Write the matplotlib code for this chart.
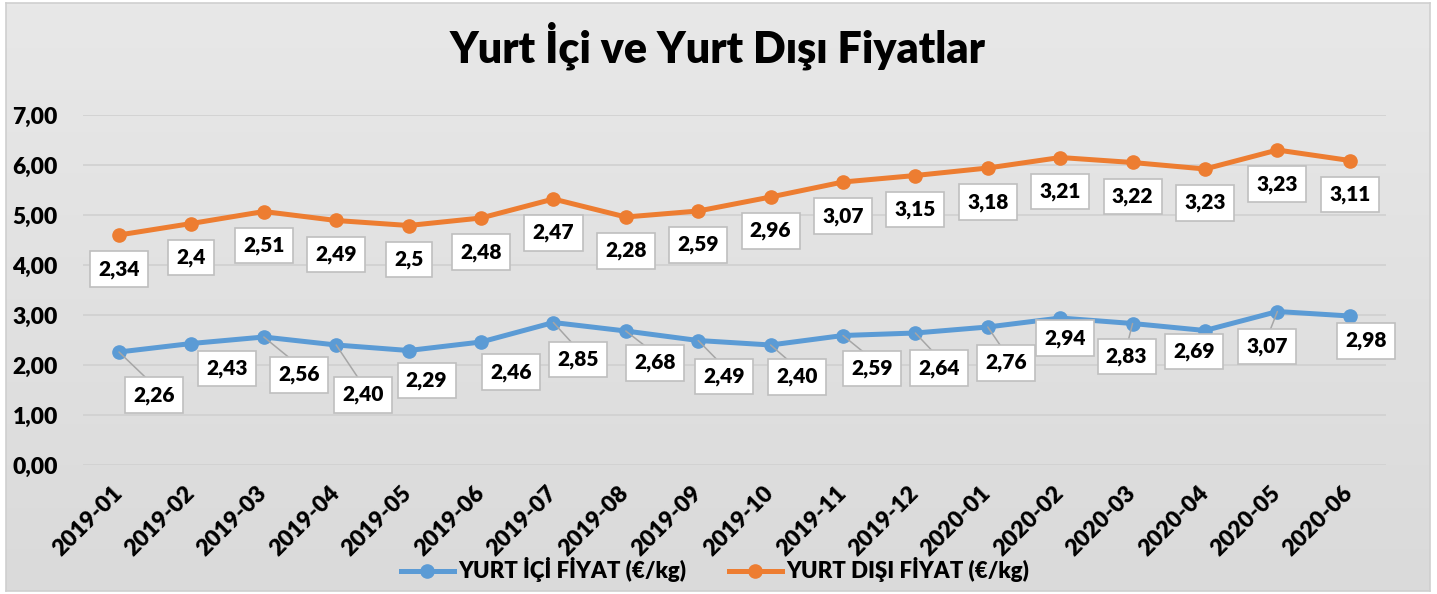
import numpy as np
import matplotlib
matplotlib.use("Agg")
import matplotlib.pyplot as plt
from matplotlib.lines import Line2D

plt.rcParams["font.family"] = ["Lato", "DejaVu Sans"]
plt.rcParams["font.weight"] = "heavy"

months = ["2019-01", "2019-02", "2019-03", "2019-04", "2019-05", "2019-06",
          "2019-07", "2019-08", "2019-09", "2019-10", "2019-11", "2019-12",
          "2020-01", "2020-02", "2020-03", "2020-04", "2020-05", "2020-06"]
yurt_ici = [2.26, 2.43, 2.56, 2.40, 2.29, 2.46, 2.85, 2.68, 2.49, 2.40,
            2.59, 2.64, 2.76, 2.94, 2.83, 2.69, 3.07, 2.98]
yurt_disi = [2.34, 2.4, 2.51, 2.49, 2.5, 2.48, 2.47, 2.28, 2.59, 2.96,
             3.07, 3.15, 3.18, 3.21, 3.22, 3.23, 3.23, 3.11]
yurt_disi_text = ["2,34", "2,4", "2,51", "2,49", "2,5", "2,48", "2,47", "2,28",
                  "2,59", "2,96", "3,07", "3,15", "3,18", "3,21", "3,22",
                  "3,23", "3,23", "3,11"]
y_ticks = [0, 1, 2, 3, 4, 5, 6, 7]

# label layout (pixel offsets from the marker, y positive = down)
blue_offsets = [(35, 43), (36, 25), (35, 38), (27, 50), (18, 30), (30, 30),
                (25, 37), (29, 32), (26, 36), (26, 32), (29, 33), (24, 35),
                (18, 36), (5, 20), (-6, 33), (-11, 21), (-10, 35), (16, 25)]
blue_leader = [1, 0, 1, 1, 0, 0, 1, 1, 1, 1, 1, 1, 1, 0, 1, 0, 1, 0]

BLUE = "#5B9BD5"
ORANGE = "#ED7D31"
W, H = 1437, 594

fig = plt.figure(figsize=(W / 100, H / 100), dpi=100, facecolor="white")

# chart area background with a soft vertical gradient
bg = fig.add_axes([6 / W, 1 - 591 / H, (1430 - 6) / W, (591 - 3) / H], zorder=0)
grad = np.linspace(0, 1, 256)[:, None]
top, bottom = np.array([0.91, 0.91, 0.91]), np.array([0.855, 0.855, 0.855])
bg.imshow(top + (bottom - top) * grad[..., None], aspect="auto", extent=[0, 1, 0, 1])
bg.set_xticks([])
bg.set_yticks([])
for s in bg.spines.values():
    s.set_color("#CFCFCF")
    s.set_linewidth(1.2)

ax = fig.add_axes([82.8 / W, 1 - 465 / H, (1386 - 82.8) / W, (465 - 115) / H], zorder=1)
ax.patch.set_alpha(0)

x = np.arange(len(months))
stacked = np.array(yurt_ici) + np.array(yurt_disi)

ax.plot(x, yurt_ici, color=BLUE, lw=3.6, marker="o", ms=9.5, zorder=3,
        solid_capstyle="round")
ax.plot(x, stacked, color=ORANGE, lw=3.6, marker="o", ms=9.5, zorder=3,
        solid_capstyle="round")

box = dict(boxstyle="square,pad=0.4", fc="white", ec="#BFBFBF", lw=1.2)
for i, v in enumerate(yurt_ici):
    dx, dy = blue_offsets[i]
    arrow = None
    if blue_leader[i]:
        arrow = dict(arrowstyle="-", color="#A6A6A6", lw=1.1, relpos=(0.5, 1.0),
                     shrinkA=0, shrinkB=0, patchA=None)
    ax.annotate(f"{v:.2f}".replace(".", ","), (x[i], v), xytext=(dx, -dy),
                textcoords="offset pixels", ha="center", va="center",
                fontsize=15, bbox=box, arrowprops=arrow, zorder=5)
for i, v in enumerate(stacked):
    ax.annotate(yurt_disi_text[i], (x[i], v), xytext=(0, -34),
                textcoords="offset pixels", ha="center", va="center",
                fontsize=15, bbox=box, zorder=5)

ax.set_xlim(-0.5, len(months) - 0.5)
ax.set_ylim(0, 7)
ax.set_yticks(y_ticks, [f"{t:.2f}".replace(".", ",") for t in y_ticks], fontsize=16.5)
ax.set_xticks(x, months, fontsize=16.5, rotation=45, ha="right",
              rotation_mode="anchor", va="center")
ax.tick_params(axis="y", length=0, pad=18)
ax.tick_params(axis="x", length=0, pad=18)
ax.grid(axis="y", color="#D0D0D0", lw=1.2)
ax.set_axisbelow(True)
for s in ax.spines.values():
    s.set_visible(False)

fig.text(718 / W, 1 - 46 / H, "Yurt İçi ve Yurt Dışı Fiyatlar", ha="center",
         va="center", fontsize=31)

handles = [Line2D([], [], color=BLUE, lw=3.6, marker="o", ms=9.5),
           Line2D([], [], color=ORANGE, lw=3.6, marker="o", ms=9.5)]
fig.legend(handles, ["YURT İÇİ FİYAT (€/kg)", "YURT DIŞI FİYAT (€/kg)"],
           loc="center", bbox_to_anchor=(715 / W, 1 - 570 / H), ncol=2,
           frameon=False, fontsize=16, handlelength=2.4, handletextpad=0.2,
           columnspacing=1.9)

fig.savefig("out.png", dpi=100, facecolor="white")
